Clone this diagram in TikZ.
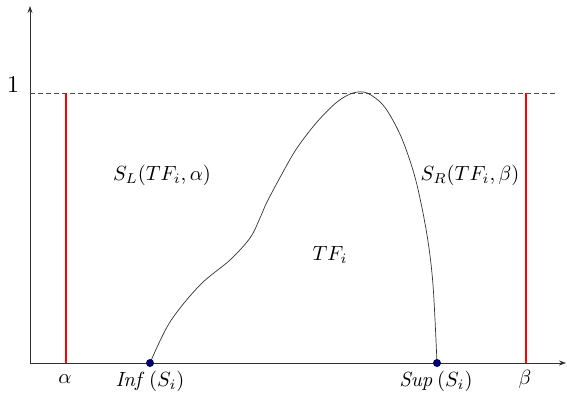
\documentclass[tikz,border=0pt]{standalone}
\usepackage{graphicx}
\usetikzlibrary{arrows.meta}
\newcommand{\mylbl}[1]{\scalebox{2.05}{$#1$}}
\begin{document}
\begin{tikzpicture}[x=1pt,y=-1pt,
  axis/.style={draw=black!80,line width=0.7pt,-{Stealth[length=7pt,width=5pt]}},
  redbar/.style={draw=red,line width=2.8pt},
  lbl/.style={inner sep=1pt},
  dot/.style={circle,fill=blue!40!black,inner sep=0pt,minimum size=8pt}]
\useasboundingbox (0,0) rectangle (567,394);
\coordinate (O) at (30,363);
\coordinate (Ytop) at (30,6);
\coordinate (Xend) at (566,363);
\coordinate (D0) at (30,93);
\coordinate (D1) at (556,93);
\draw[axis] (O) -- (Ytop);
\draw[axis] (O) -- (Xend);
\draw[black!70,line width=0.6pt,dash pattern=on 5pt off 3pt] (D0) -- (D1);
\node[lbl] (one) at (13,85) {\scalebox{2.4}{$1$}};
\coordinate (aT) at (66,93); \coordinate (aB) at (66,363);
\coordinate (bT) at (526,93); \coordinate (bB) at (526,363);
\draw[redbar] (aT) -- (aB);
\draw[redbar] (bT) -- (bB);
\draw[black!80,line width=0.7pt] plot[smooth,tension=0.55] coordinates {
 (150,363) (170,322) (200,285) (230,260) (250,238) (260,218) (267,202) (283,172) (297,148) (317,122) (337,102) (353,93) (367,93) (383,105) (397,128) (407,152) (417,185) (427,235) (433,285) (437,363)};
\node[dot] (inf) at (150,363) {};
\node[dot] (sup) at (437,363) {};
\node[lbl] (la) at (65,379) {\mylbl{\alpha}};
\node[lbl] (lb) at (525,379) {\mylbl{\beta}};
\node[lbl] (li) at (150,381) {\mylbl{\mathit{Inf}\,(S_i)}};
\node[lbl] (ls) at (436,381) {\mylbl{\mathit{Sup}\,(S_i)}};
\node[lbl] (sl) at (162,175) {\mylbl{S_L(TF_i,\alpha)}};
\node[lbl] (sr) at (470,175) {\mylbl{S_R(TF_i,\beta)}};
\node[lbl] (tf) at (330,255) {\mylbl{TF_i}};
\end{tikzpicture}
\end{document}
